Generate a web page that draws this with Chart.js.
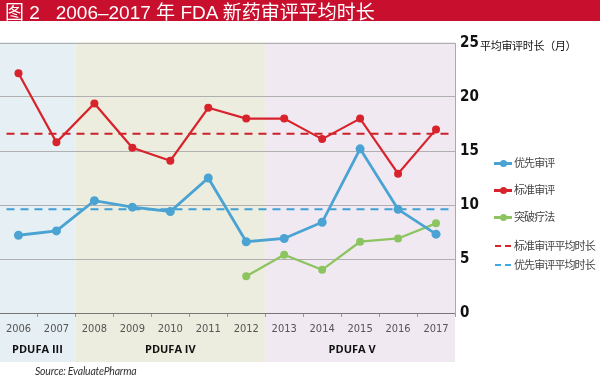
<!DOCTYPE html>
<html>
<head>
<meta charset="utf-8">
<script src="https://cdn.jsdelivr.net/npm/chart.js@4"></script>
<style>
  html, body { margin: 0; padding: 0; background: #fff; }
  #wrap { position: relative; width: 600px; height: 381px; overflow: hidden; }
  #titlebar { position: absolute; left: 0; top: 0; width: 600px; height: 21px; background: #c8102e;
    color: #fff; font: 19px "Liberation Sans", "Noto Sans CJK SC", sans-serif; line-height: 21px; padding-left: 5px; box-sizing: border-box; white-space: pre; }
  #titlebar .cjk { font-family: "Noto Sans CJK SC", sans-serif; }
  #chartbox { position: absolute; left: -5px; top: 0; width: 605px; height: 381px; }
  #ytitle { position: absolute; left: 480px; top: 37px; font: 11px "Noto Sans CJK SC", sans-serif; color: #111; white-space: nowrap; letter-spacing: -0.3px; }
  #source { position: absolute; left: 35px; top: 365px; font: italic 10.5px Lato, sans-serif; color: #333; letter-spacing: -0.2px; }
  .leg { position: absolute; left: 494px; height: 14px; font: 11px "Noto Sans CJK SC", sans-serif; color: #444; white-space: nowrap; letter-spacing: -0.9px; }
  .leg .sym { position: absolute; left: 0; top: 6px; width: 18px; height: 3px; }
  .leg .dot { position: absolute; left: 6px; top: 4px; width: 7px; height: 7px; border-radius: 50%; }
  .leg .txt { position: absolute; left: 20px; top: -2px; }
  .leg .dash { position: absolute; top: 6px; width: 6px; height: 2px; }
</style>
</head>
<body>
<div id="wrap">
  <div id="chartbox"><canvas id="c" width="605" height="381"></canvas></div>
  <div id="titlebar"><span class="cjk">图</span> 2   2006–2017 <span class="cjk">年</span> FDA <span class="cjk">新药审评平均时长</span></div>
  <div id="ytitle">平均审评时长（月）</div>
  <div id="source">Source: EvaluatePharma</div>
  <div id="legend"></div>
</div>
<script>
// ---- data ----
const years = ['2006','2007','2008','2009','2010','2011','2012','2013','2014','2015','2016','2017'];
const priorityReview = [7.2, 7.6, 10.4, 9.8, 9.4, 12.5, 6.6, 6.9, 8.4, 15.2, 9.6, 7.3];
const standardReview = [22.2, 15.8, 19.4, 15.3, 14.1, 19.0, 18.0, 18.0, 16.1, 18.0, 12.9, 17.0];
const breakthrough = [null, null, null, null, null, null, 3.4, 5.4, 4.0, 6.6, 6.9, 8.3];
const standardAvg = 16.6;
const priorityAvg = 9.6;
const yTickValues = [0, 5, 10, 15, 20, 25];
const phaseNames = ['PDUFA III', 'PDUFA IV', 'PDUFA V'];
const phaseFirstYear = ['2006', '2008', '2013'];
const phaseLastYear = ['2007', '2012', '2017'];
const seriesNames = ['优先审评', '标准审评', '突破疗法'];
const avgNames = ['标准审评平均时长', '优先审评平均时长'];

const COL_BLUE = '#4aa3d2';
const COL_RED = '#d8232c';
const COL_GREEN = '#8cc560';
const BAND_COLS = ['#e6eff3', '#ecedde', '#f0e9f1'];

// ---- legend (HTML) ----
const legend = document.getElementById('legend');
const legItems = [
  {name: seriesNames[0], color: COL_BLUE, type: 'line', top: 156},
  {name: seriesNames[1], color: COL_RED, type: 'line', top: 183},
  {name: seriesNames[2], color: COL_GREEN, type: 'line', top: 210},
  {name: avgNames[0], color: '#d8232c', type: 'dash', top: 239},
  {name: avgNames[1], color: '#3fa9e0', type: 'dash', top: 258}
];
legItems.forEach(it => {
  const d = document.createElement('div');
  d.className = 'leg';
  d.style.top = it.top + 'px';
  let sym = '';
  if (it.type === 'line') {
    sym = `<div class="sym" style="background:${it.color}"></div><div class="dot" style="background:${it.color}"></div>`;
  } else {
    sym = `<div class="dash" style="left:1px;background:${it.color}"></div><div class="dash" style="left:11px;background:${it.color}"></div>`;
  }
  d.innerHTML = sym + `<span class="txt">${it.name}</span>`;
  legend.appendChild(d);
});

// ---- plugin: bands, phase labels, averages ----
const decor = {
  id: 'decor',
  beforeDraw(chart) {
    const {ctx, scales: {x}} = chart;
    const half = (x.getPixelForValue(1) - x.getPixelForValue(0)) / 2;
    ctx.save();
    phaseNames.forEach((nm, i) => {
      const a = x.getPixelForValue(years.indexOf(phaseFirstYear[i])) - half;
      const b = x.getPixelForValue(years.indexOf(phaseLastYear[i])) + half;
      ctx.fillStyle = BAND_COLS[i];
      ctx.fillRect(a, 42, b - a, 320);
      ctx.fillStyle = '#111';
      ctx.font = 'bold 11px "Open Sans", sans-serif';
      ctx.textAlign = 'center';
      ctx.textBaseline = 'middle';
      const cx = i === 2 ? (a + b) / 2 - 8 : (a + b) / 2;
      ctx.fillText(nm, cx, 350);
    });
    ctx.restore();
  },
  beforeDatasetsDraw(chart) {
    const {ctx, chartArea, scales: {y}} = chart;
    ctx.save();
    ctx.lineWidth = 2;
    ctx.setLineDash([8, 6]);
    [[standardAvg, '#c9202a'], [priorityAvg, '#3fa0d6']].forEach(([v, c]) => {
      const py = y.getPixelForValue(v);
      ctx.strokeStyle = c;
      ctx.beginPath();
      ctx.moveTo(chartArea.left + 7, py);
      ctx.lineTo(chartArea.right - 4, py);
      ctx.stroke();
    });
    ctx.restore();
  }
};

new Chart(document.getElementById('c'), {
  type: 'line',
  data: {
    labels: years,
    datasets: [
      {label: seriesNames[1], data: standardReview, borderColor: COL_RED, backgroundColor: COL_RED,
        borderWidth: 2.2, pointRadius: 4, pointBorderWidth: 0, tension: 0},
      {label: seriesNames[0], data: priorityReview, borderColor: COL_BLUE, backgroundColor: COL_BLUE,
        borderWidth: 2.8, pointRadius: 4.5, pointBorderWidth: 0, tension: 0},
      {label: seriesNames[2], data: breakthrough, borderColor: COL_GREEN, backgroundColor: COL_GREEN,
        borderWidth: 2.3, pointRadius: 4, pointBorderWidth: 0, tension: 0}
    ]
  },
  options: {
    responsive: false,
    animation: false,
    events: [],
    layout: {padding: {left: 0, right: 0, top: 43, bottom: 0}},
    plugins: {legend: {display: false}, tooltip: {enabled: false}, title: {display: false}},
    scales: {
      x: {
        type: 'category',
        offset: true,
        grid: {offset: true, drawOnChartArea: false, drawTicks: true, tickLength: 4, color: '#999'},
        border: {display: true, color: '#777', width: 1},
        ticks: {color: '#555', font: {family: '"Liberation Sans Narrow", "DejaVu Sans Condensed", sans-serif', size: 11}, padding: 6, maxRotation: 0},
        afterFit(s) { s.height = 68; }
      },
      y: {
        position: 'right',
        min: 0, max: 25,
        afterBuildTicks(s) { s.ticks = yTickValues.map(v => ({value: v})); },
        grid: {color: ctx => ctx.tick && ctx.tick.value === 0 ? '#777' : '#b0b0b0', lineWidth: 1, drawTicks: false},
        border: {display: true, color: '#aaa'},
        ticks: {color: '#111', padding: 5, font: {family: '"Liberation Sans Narrow", "DejaVu Sans Condensed", sans-serif', size: 15, weight: 'bold'}},
        afterFit(s) { s.width = 145; }
      }
    }
  },
  plugins: [decor]
});
</script>
</body>
</html>
